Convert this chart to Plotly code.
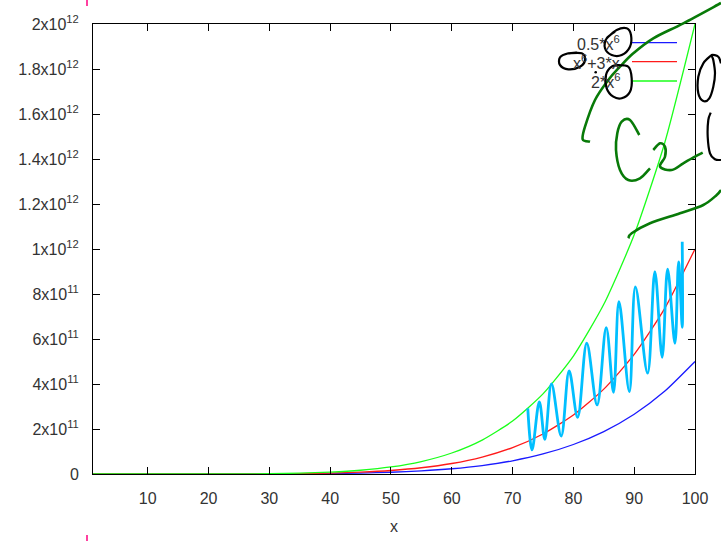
import plotly.graph_objects as go

# ---- curve samples (y in units of 1e9) ----
x_vals = [1, 10, 20, 25, 30, 35, 40, 45, 50, 55, 60, 65, 70, 75, 80, 85, 90, 95, 100]
half_x6 = [0, 0.0005, 0.032, 0.122, 0.3645, 0.919, 2.048, 4.152, 7.813, 13.84, 23.33,
           37.71, 58.82, 88.99, 131.1, 188.6, 265.7, 367.5, 500.0]
x6_plus_3x = [0, 0.001, 0.064, 0.244, 0.729, 1.838, 4.096, 8.304, 15.63, 27.68, 46.66,
              75.42, 117.6, 178.0, 262.1, 377.1, 531.4, 735.1, 1000.0]
two_x6 = [0, 0.002, 0.128, 0.488, 1.458, 3.676, 8.192, 16.61, 31.25, 55.36, 93.31,
          150.8, 235.3, 356.0, 524.3, 754.3, 1062.9, 1470.2, 2000.0]

series_names = ["0.5*x<sup>6</sup>", "x<sup>6</sup>+3*x", "2*x<sup>6</sup>"]
series_colors = ["#1a1aff", "#ff1a1a", "#1aff1a"]

x_ticks = [10, 20, 30, 40, 50, 60, 70, 80, 90, 100]
y_ticks = [0, 2e11, 4e11, 6e11, 8e11, 1e12, 1.2e12, 1.4e12, 1.6e12, 1.8e12, 2e12]
y_tick_text = ["0", "2x10<sup>11</sup>", "4x10<sup>11</sup>", "6x10<sup>11</sup>",
               "8x10<sup>11</sup>", "1x10<sup>12</sup>", "1.2x10<sup>12</sup>",
               "1.4x10<sup>12</sup>", "1.6x10<sup>12</sup>", "1.8x10<sup>12</sup>",
               "2x10<sup>12</sup>"]

# cyan freehand wiggle, turning points in data units (x, y in 1e9)
wiggle_x = [72.5, 73.2, 74.4, 75.3, 76.4, 78.0, 79.3, 80.7, 82.2, 83.9, 85.4, 86.6,
            87.5, 89.2, 90.2, 92.2, 93.4, 94.6, 95.5, 96.7, 97.3, 97.9, 97.9]
wiggle_y = [292, 107, 321, 154, 400, 169, 458, 252, 581, 307, 650, 363,
            766, 366, 832, 448, 899, 519, 910, 581, 943, 652, 1032]

# ---- freehand ink strokes, in page pixels ----
green_ink = [
    [(590, 141.7), (582.7, 139.3), (585, 126.7), (595, 100), (608.3, 80), (620, 66.7),
     (633.3, 53.3), (653.3, 38.3), (683.3, 23.3), (721, 3)],
    [(639.3, 135), (630, 120), (621.7, 121.7), (617.3, 133.3), (616, 150), (620, 170),
     (628.3, 180), (640, 178.3), (650, 168.3)],
    [(653.3, 150), (660, 143.3), (665, 146.7), (665, 156.7), (660, 166.7), (671.7, 170),
     (683.3, 163.3), (695, 156.7), (702.7, 152.7)],
    [(628.3, 238.3), (631.7, 233.3), (650, 223.3), (680, 213.3), (703.3, 205),
     (716.7, 195), (721, 190)],
]
black_ink = [
    [(606.7, 38.3), (616.7, 30), (626.7, 28.3), (631, 35), (630, 46.7), (621.7, 55),
     (611.7, 55), (605, 48.3), (606.7, 38.3), (615, 31.7)],
    [(568.3, 53.3), (581.7, 53.3), (585, 60), (580, 66.7), (568.3, 69.3), (560, 65),
     (560, 57.3), (568.3, 53.3), (576.7, 52.7)],
    [(616.7, 65), (628.3, 66.7), (631.7, 78.3), (630, 91.7), (621.7, 98.3), (613.3, 96.7),
     (606.7, 88.3), (606, 75), (611.7, 66.7), (620, 65)],
    [(711.7, 55), (703.3, 63.3), (698.3, 76.7), (698.3, 93.3), (703.3, 101), (709.3, 98.3),
     (713.3, 86.7), (715, 73.3), (713.3, 60), (711.7, 55), (718.3, 56.7), (721, 63.3)],
    [(710.7, 112.7), (708.3, 120), (707.7, 136.7), (710, 153.3), (715, 159.3), (721, 160)],
]

W, H = 721, 541
ML, MR, MT, MB = 93, 26, 24, 67
PW, PH = W - ML - MR, H - MT - MB


def to_paper(p):
    return ((p[0] - ML) / PW, (H - MB - p[1]) / PH)


def smooth_path(pts):
    P = [to_paper(p) for p in pts]
    d = "M{:.5f},{:.5f}".format(*P[0])
    for i in range(len(P) - 1):
        p0 = P[i - 1] if i > 0 else P[i]
        p1, p2 = P[i], P[i + 1]
        p3 = P[i + 2] if i + 2 < len(P) else P[i + 1]
        c1 = (p1[0] + (p2[0] - p0[0]) / 6, p1[1] + (p2[1] - p0[1]) / 6)
        c2 = (p2[0] - (p3[0] - p1[0]) / 6, p2[1] - (p3[1] - p1[1]) / 6)
        d += " C{:.5f},{:.5f} {:.5f},{:.5f} {:.5f},{:.5f}".format(*c1, *c2, *p2)
    return d


FONT = "Liberation Sans, Arial, sans-serif"
TXT = "#333333"

fig = go.Figure()
for ys, name, col in zip([half_x6, x6_plus_3x, two_x6], series_names, series_colors):
    fig.add_trace(go.Scatter(
        x=x_vals, y=[v * 1e9 for v in ys], mode="lines", name=name,
        line=dict(color=col, width=1.3, shape="spline", smoothing=0.6),
        showlegend=False, hoverinfo="skip"))

fig.add_trace(go.Scatter(
    x=wiggle_x, y=[v * 1e9 for v in wiggle_y], mode="lines",
    line=dict(color="#00bfff", width=2.8, shape="spline", smoothing=1.0),
    showlegend=False, hoverinfo="skip"))

shapes = []
annotations = []

# key: right-aligned label followed by a line sample
key_rows_y = [42.7, 61.7, 81.0]
for name, col, yp in zip(series_names, series_colors, key_rows_y):
    _, py = to_paper((0, yp))
    annotations.append(dict(
        xref="paper", yref="paper", x=to_paper((622, 0))[0], y=py,
        xanchor="right", yanchor="middle", text=name, showarrow=False,
        font=dict(family=FONT, size=16, color=TXT)))
    shapes.append(dict(
        type="line", xref="paper", yref="paper",
        x0=to_paper((632, 0))[0], x1=to_paper((677, 0))[0], y0=py, y1=py,
        line=dict(color=col, width=1.3)))

for s in green_ink:
    shapes.append(dict(type="path", xref="paper", yref="paper", path=smooth_path(s),
                       line=dict(color="#087a08", width=2.6)))
for s in black_ink:
    shapes.append(dict(type="path", xref="paper", yref="paper", path=smooth_path(s),
                       line=dict(color="#000000", width=2.2)))

dx, dy = to_paper((595.7, 72.3))
shapes.append(dict(type="circle", xref="paper", yref="paper",
                   x0=dx - 1.3 / PW, x1=dx + 1.3 / PW, y0=dy - 1.3 / PH, y1=dy + 1.3 / PH,
                   fillcolor="#000000", line=dict(width=0)))

# small registration marks at the page edges
for (ya, yb) in [(0, 6), (535, 541)]:
    xa, y0 = to_paper((87, ya))
    _, y1 = to_paper((87, yb))
    shapes.append(dict(type="line", xref="paper", yref="paper",
                       x0=xa, x1=xa, y0=y0, y1=y1,
                       line=dict(color="#ff40a0", width=2)))

fig.update_layout(
    template="none",
    width=W, height=H,
    margin=dict(l=ML, r=MR, t=MT, b=MB, pad=0, autoexpand=False),
    paper_bgcolor="white", plot_bgcolor="white",
    font=dict(family=FONT, size=16, color=TXT),
    shapes=shapes, annotations=annotations,
    xaxis=dict(range=[1, 100], tickvals=x_ticks, ticks="inside", ticklen=7,
               tickcolor="black", showline=True, linecolor="black", linewidth=1,
               mirror="ticks", showgrid=False, zeroline=False, automargin=False,
               ticklabelstandoff=10,
               tickfont=dict(family=FONT, size=16, color=TXT),
               title=dict(text="x", standoff=14,
                          font=dict(family=FONT, size=16, color=TXT))),
    yaxis=dict(range=[0, 2e12], tickvals=y_ticks, ticktext=y_tick_text,
               ticks="inside", ticklen=7, tickcolor="black", showline=True,
               linecolor="black", linewidth=1, mirror="ticks", showgrid=False,
               zeroline=False, automargin=False, ticklabelstandoff=10,
               tickfont=dict(family=FONT, size=16, color=TXT)),
)

fig.write_html("out.html")
